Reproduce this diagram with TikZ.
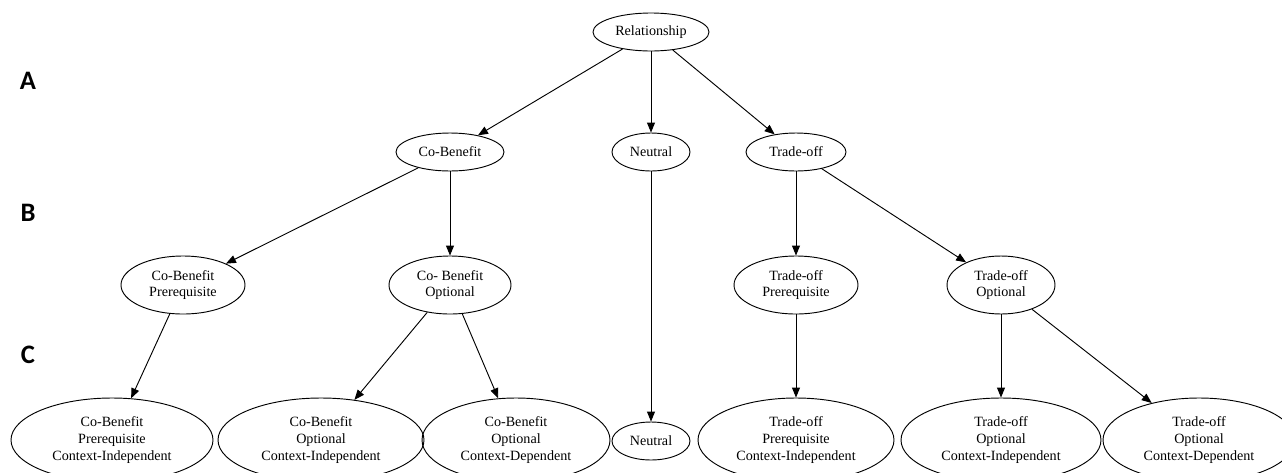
\documentclass[tikz,border=0pt]{standalone}
\usepackage{fontspec}
\setmainfont{Liberation Serif}
\newfontfamily\tierfont{Carlito}
\usepackage{tikz}
\usetikzlibrary{arrows.meta, shapes.geometric, positioning}

\tikzset{
	oval/.style={draw, ellipse, inner sep=0pt, align=center, font=\fontsize{10.6}{12.4}\selectfont},
	rootlevel/.style={oval, minimum height=28.5pt},
	midlevel/.style={oval, minimum height=43.5pt},
	leaflevel/.style={oval, minimum height=63pt},
	tier/.style={font=\tierfont\fontsize{20}{24}\selectfont\bfseries}
}

\begin{document}
\begin{tikzpicture}[->, >={Triangle[length=7.5pt, width=6pt]}, line width=0.7pt, x=0.75pt, y=-0.75pt]
		\useasboundingbox (0,0) rectangle (1282,472);
		\clip (0,0) rectangle (1282,472);
		% levels
		\node[tier]	(la) at (28,81)		{A};
		\node[tier]	(lb) at (28,213)	{B};
		\node[tier]	(lc) at (28,355)	{C};
		% A
		\node[rootlevel, minimum width=87pt]	(rel)	at (651,32)	{Relationship};
		% B
		\node[rootlevel, minimum width=81pt]	(cb)	at (450,152)	{Co-Benefit};
		\node[rootlevel, minimum width=58.5pt]	(neu)	at (651,152)	{Neutral};
		\node[rootlevel, minimum width=75pt]	(to)	at (796,152)	{Trade-off};
		\node[midlevel, minimum width=93pt]	(cbp)	at (183,285)	{Co-Benefit\\Prerequisite};
		\node[midlevel, minimum width=91.5pt]	(cbo)	at (450,285)	{Co- Benefit\\Optional};
		\node[midlevel, minimum width=93pt]	(top)	at (796,285)	{Trade-off\\Prerequisite};
		\node[midlevel, minimum width=81pt]	(too)	at (1001,285)	{Trade-off\\Optional};
		% C
		\node[leaflevel, minimum width=151.5pt]	(cbpci)	at (112,440)	{Co-Benefit\\Prerequisite\\Context-Independent};
		\node[leaflevel, minimum width=154.5pt]	(cboci)	at (321,440)	{Co-Benefit\\Optional\\Context-Independent};
		\node[leaflevel, minimum width=141pt]	(cbocd)	at (516,440)	{Co-Benefit\\Optional\\Context-Dependent};
		\node[oval, minimum width=58.5pt, minimum height=28.5pt]	(neuc)	at (651,441)	{Neutral};
		\node[leaflevel, minimum width=147pt]	(topci)	at (796,440)	{Trade-off\\Prerequisite\\Context-Independent};
		\node[leaflevel, minimum width=150pt]	(tooci)	at (1001,440)	{Trade-off\\Optional\\Context-Independent};
		\node[leaflevel, minimum width=144pt]	(toocd)	at (1199,440)	{Trade-off\\Optional\\Context-Dependent};
		\path
		(rel)	edge	(cb)
		(rel)	edge	(neu)
		(rel)	edge	(to)
		(cb)	edge	(cbp)
		(cb)	edge	(cbo)
		(to)	edge	(top)
		(to)	edge	(too)
		(cbp)	edge	(cbpci)
		(cbo)	edge	(cboci)
		(cbo)	edge	(cbocd)
		(neu)	edge	(neuc)
		(top)	edge	(topci)
		(too)	edge	(tooci)
		(too)	edge	(toocd);
\end{tikzpicture}
\end{document}
